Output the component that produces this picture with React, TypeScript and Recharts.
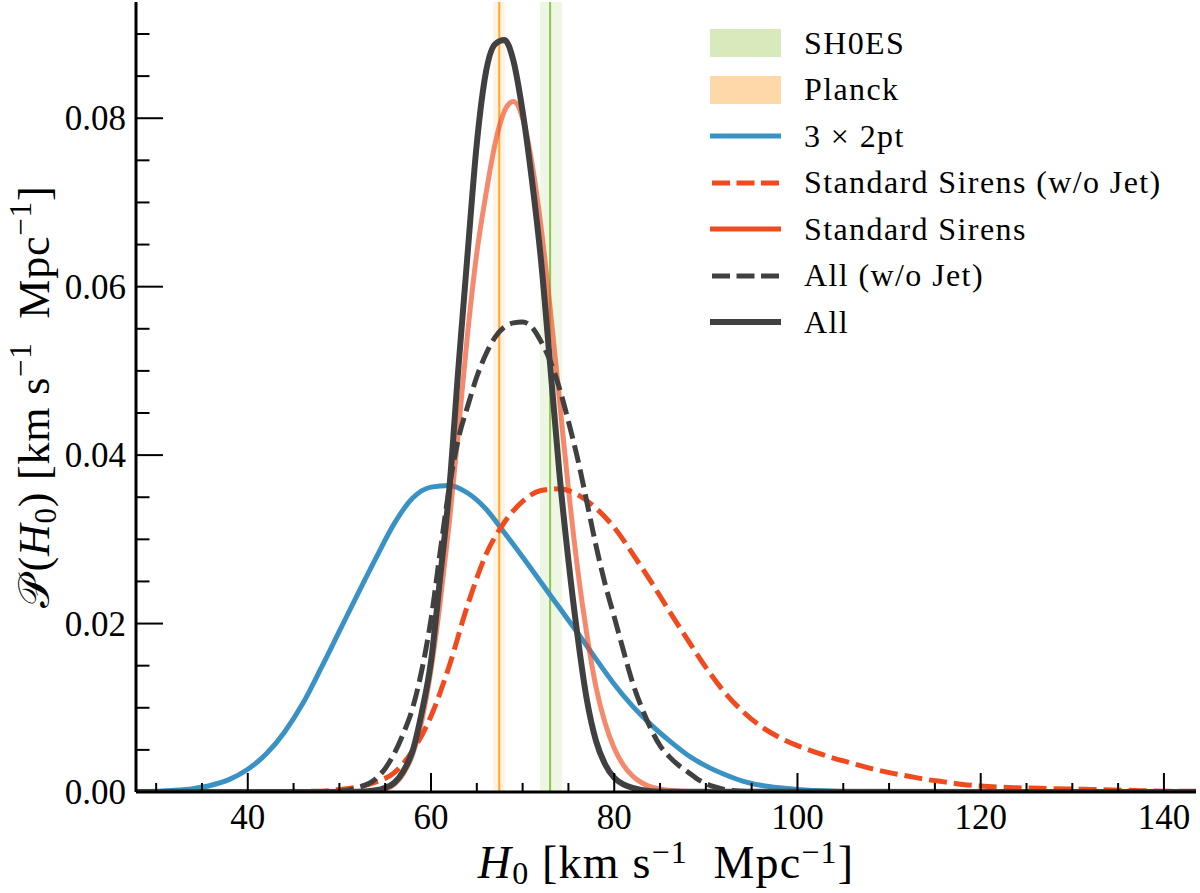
import React from 'react';
import { LineChart, Line, XAxis, YAxis, ReferenceArea, ReferenceLine, Legend } from 'recharts';

const SERIF = '"Liberation Serif", "DejaVu Serif", serif';

// ---------- data ----------
const xDomain = [27.8, 143.5];
const yDomain = [0, 0.0938];
const xTicks = [30, 35, 40, 45, 50, 55, 60, 65, 70, 75, 80, 85, 90, 95, 100, 105, 110, 115, 120, 125, 130, 135, 140];
const xMajorTicks = [40, 60, 80, 100, 120, 140];
const yTicks = [0, 0.005, 0.01, 0.015, 0.02, 0.025, 0.03, 0.035, 0.04, 0.045, 0.05, 0.055, 0.06, 0.065, 0.07, 0.075, 0.08, 0.085, 0.09];
const yMajorTicks = [0, 0.02, 0.04, 0.06, 0.08];

// bands: SH0ES, Planck
const bandNames = ['SH0ES', 'Planck'];
const bandCenter = [73.0, 67.45];
const bandLow = [71.9, 66.8];
const bandHigh = [74.3, 68.05];

// 3 x 2pt
const twoPtH0 = [27.8, 30, 32, 34, 36, 38, 40, 42, 44, 46, 48, 50, 52, 54, 56, 58, 60, 62, 64, 66, 68, 70, 72, 74, 76, 78, 80, 82, 84, 86, 88, 90, 92, 94, 96, 98, 100, 104, 108, 114];
const twoPtP = [0.0, 0.0001, 0.0002, 0.0004, 0.0008, 0.0015, 0.0027, 0.0045, 0.0071, 0.0105, 0.0147, 0.0191, 0.0235, 0.0278, 0.0319, 0.0349, 0.0362, 0.0364, 0.0355, 0.0336, 0.0308, 0.0279, 0.0249, 0.0219, 0.0189, 0.0158, 0.0128, 0.0102, 0.008, 0.0061, 0.0044, 0.0031, 0.0021, 0.0013, 0.0008, 0.0005, 0.0003, 0.0001, 0.00003, 0.0];

// Standard Sirens (w/o Jet)
const sirNoJetH0 = [27.8, 40, 44, 48, 50, 52, 54, 56, 58, 60, 62, 64, 66, 68, 70, 72, 74, 76, 78, 80, 82, 84, 86, 88, 90, 92, 94, 96, 98, 100, 102, 104, 106, 108, 110, 112, 114, 116, 118, 120, 124, 128, 132, 136, 140, 143.5];
const sirNoJetP = [0, 0, 0.00005, 0.0001, 0.0003, 0.0006, 0.0012, 0.0023, 0.0049, 0.009, 0.015, 0.0222, 0.0282, 0.032, 0.0345, 0.0358, 0.036, 0.0353, 0.0337, 0.0314, 0.0283, 0.025, 0.0215, 0.0181, 0.0148, 0.0119, 0.0096, 0.0078, 0.0065, 0.0055, 0.0047, 0.004, 0.0034, 0.0028, 0.0023, 0.0019, 0.0015, 0.0012, 0.0009, 0.0007, 0.0005, 0.0004, 0.0003, 0.0002, 0.0001, 0.0001];

// Standard Sirens
const sirH0 = [27.8, 50, 52, 54, 55, 56, 57, 58, 59, 60, 61, 62, 63, 64, 65, 66, 67, 68, 69, 70, 71, 72, 73, 74, 75, 76, 77, 78, 79, 80, 81, 82, 83, 84, 86, 88, 92, 143.5];
const sirP = [0, 0, 0.00003, 0.0001, 0.0003, 0.0009, 0.0022, 0.0045, 0.0085, 0.0145, 0.0225, 0.032, 0.043, 0.0545, 0.064, 0.071, 0.077, 0.0808, 0.082, 0.08, 0.0748, 0.0672, 0.0575, 0.0468, 0.036, 0.0265, 0.0188, 0.0125, 0.0082, 0.0052, 0.0032, 0.0019, 0.0011, 0.0006, 0.0002, 0.00005, 0, 0];

// All (w/o Jet)
const allNoJetH0 = [27.8, 46, 50, 52, 54, 55, 56, 57, 58, 59, 60, 61, 62, 63, 64, 65, 66, 67, 68, 69, 70, 71, 72, 73, 74, 75, 76, 77, 78, 79, 80, 81, 82, 83, 84, 85, 86, 87, 88, 89, 90, 91, 92, 94, 96, 143.5];
const allNoJetP = [0, 0, 0.0001, 0.0005, 0.0016, 0.0028, 0.0046, 0.007, 0.01, 0.0145, 0.0205, 0.0285, 0.0362, 0.042, 0.0458, 0.0493, 0.052, 0.054, 0.0552, 0.0557, 0.0558, 0.0552, 0.0535, 0.0512, 0.048, 0.044, 0.0396, 0.0345, 0.0293, 0.0247, 0.0208, 0.0168, 0.013, 0.01, 0.0075, 0.0055, 0.0042, 0.0032, 0.0024, 0.0016, 0.001, 0.0006, 0.0003, 0.0001, 0, 0];

// All
const allH0 = [27.8, 50, 52, 54, 55, 56, 57, 58, 59, 60, 61, 62, 63, 64, 65, 66, 67, 68, 69, 70, 71, 72, 73, 74, 75, 76, 77, 78, 79, 80, 81, 82, 84, 86, 143.5];
const allP = [0, 0, 0.00003, 0.0002, 0.0005, 0.0011, 0.0025, 0.0049, 0.0095, 0.0155, 0.0255, 0.036, 0.0505, 0.064, 0.077, 0.0855, 0.0888, 0.0893, 0.0868, 0.0808, 0.0728, 0.0632, 0.0508, 0.038, 0.0275, 0.0185, 0.011, 0.0061, 0.0033, 0.0017, 0.0009, 0.0005, 0.0001, 0.00002, 0];

const legendLabels = ['SH0ES', 'Planck', '3 × 2pt', 'Standard Sirens (w/o Jet)', 'Standard Sirens', 'All (w/o Jet)', 'All'];

// ---------- styles ----------
const COLORS = {
  shoesLine: '#8fc550',
  shoesBand: '#eef6e4',
  shoesPatch: '#d8eabb',
  planckLine: '#ffa62e',
  planckBand: '#fff2e2',
  planckPatch: '#fdd8a8',
  blue: '#3a92c4',
  red: '#f04a1e',
  dark: '#404040',
};

const zip = (xs: number[], ys: number[]) => xs.map((h, i) => ({ h, p: ys[i] }));

const series = [
  { name: legendLabels[2], data: zip(twoPtH0, twoPtP), color: COLORS.blue, dash: undefined as string | undefined, width: 5, opacity: 1 },
  { name: legendLabels[3], data: zip(sirNoJetH0, sirNoJetP), color: COLORS.red, dash: '18 7', width: 5, opacity: 1 },
  { name: legendLabels[4], data: zip(sirH0, sirP), color: COLORS.red, dash: undefined, width: 5, opacity: 0.65 },
  { name: legendLabels[5], data: zip(allNoJetH0, allNoJetP), color: COLORS.dark, dash: '18 7', width: 5, opacity: 1 },
  { name: legendLabels[6], data: zip(allH0, allP), color: COLORS.dark, dash: undefined, width: 6, opacity: 1 },
];

const legendItems = [
  { label: legendLabels[0], kind: 'patch', color: COLORS.shoesPatch, dash: undefined as string | undefined, width: 0 },
  { label: legendLabels[1], kind: 'patch', color: COLORS.planckPatch, dash: undefined, width: 0 },
  ...series.map((s) => ({ label: s.name, kind: 'line', color: s.color, dash: s.dash, width: s.width })),
];

const isMajorX = (v: number) => xMajorTicks.some((m) => Math.abs(m - v) < 1e-6);
const isMajorY = (v: number) => yMajorTicks.some((m) => Math.abs(m - v) < 1e-9);

const XTickBottom = (props: any) => {
  const { x, y, payload } = props;
  const v = payload.value;
  const major = isMajorX(v);
  return (
    <g>
      <line x1={x} x2={x} y1={y} y2={y - (major ? 19 : 9)} stroke="#000" strokeWidth={2} />
      {major && (
        <text x={x} y={y + 37} textAnchor="middle" fontFamily={SERIF} fontSize={35} fill="#000">
          {v}
        </text>
      )}
    </g>
  );
};

const XTickTop = (props: any) => {
  const { x, y, payload } = props;
  const major = isMajorX(payload.value);
  return <line x1={x} x2={x} y1={y} y2={y + (major ? 19 : 9)} stroke="#000" strokeWidth={2} />;
};

const YTickLeft = (props: any) => {
  const { x, y, payload } = props;
  const v = payload.value;
  const major = isMajorY(v);
  return (
    <g>
      <line x1={x} x2={x + (major ? 27 : 13.5)} y1={y} y2={y} stroke="#000" strokeWidth={2} />
      {major && (
        <text x={x - 10} y={y + 12} textAnchor="end" fontFamily={SERIF} fontSize={35} fill="#000">
          {v.toFixed(2)}
        </text>
      )}
    </g>
  );
};

const YTickRight = (props: any) => {
  const { x, y, payload } = props;
  const major = isMajorY(payload.value);
  return <line x1={x} x2={x - (major ? 27 : 13.5)} y1={y} y2={y} stroke="#000" strokeWidth={2} />;
};

const XLabel = (props: any) => {
  const vb = props.viewBox || { x: 136, y: 792, width: 1060, height: 101 };
  const cx = vb.x + vb.width / 2;
  const by = vb.y + 86;
  return (
    <text x={cx} y={by} textAnchor="middle" fontFamily={SERIF} fontSize={46} letterSpacing={1.2} fill="#000" style={{ whiteSpace: 'pre' }}>
      <tspan fontStyle="italic">H</tspan>
      <tspan fontSize={32} dy={6}>0</tspan>
      <tspan dy={-6}>{' [km s'}</tspan>
      <tspan fontSize={32} dy={-15}>{'−1'}</tspan>
      <tspan dy={15}>{'  Mpc'}</tspan>
      <tspan fontSize={32} dy={-15}>{'−1'}</tspan>
      <tspan dy={15}>{']'}</tspan>
    </text>
  );
};

const YLabel = (props: any) => {
  const vb = props.viewBox || { x: 0, y: 2, width: 136, height: 790 };
  const cy = vb.y + vb.height / 2;
  const bx = vb.x + 49;
  return (
    <text
      x={bx}
      y={cy}
      transform={`rotate(-90, ${bx}, ${cy})`}
      textAnchor="middle"
      fontFamily={SERIF}
      fontSize={44}
      letterSpacing={0.8}
      fill="#000"
      style={{ whiteSpace: 'pre' }}
    >
      <tspan>𝒫</tspan>
      <tspan dx={4}>(</tspan>
      <tspan fontStyle="italic">H</tspan>
      <tspan fontSize={31} dy={7}>0</tspan>
      <tspan dy={-7}>{') [km s'}</tspan>
      <tspan fontSize={31} dy={-18}>{'−1'}</tspan>
      <tspan dy={18}>{'  Mpc'}</tspan>
      <tspan fontSize={31} dy={-18}>{'−1'}</tspan>
      <tspan dy={18}>{']'}</tspan>
    </text>
  );
};

const renderLegend = () => (
  <div style={{ fontFamily: SERIF, fontSize: 32, letterSpacing: 1.4, color: '#000' }}>
    {legendItems.map((it, i) => (
      <div key={i} style={{ display: 'flex', alignItems: 'center', height: 46.5 }}>
        <svg width={71} height={30} style={{ marginRight: 23, flex: 'none' }}>
          {it.kind === 'patch' ? (
            <rect x={0} y={1} width={71} height={28} fill={it.color} />
          ) : (
            <line x1={it.dash ? 2 : 0} x2={it.dash ? 69 : 71} y1={15} y2={15} stroke={it.color} strokeWidth={it.width} strokeDasharray={it.dash ? '18 6.5' : undefined} />
          )}
        </svg>
        <span style={{ whiteSpace: 'nowrap' }}>{it.label}</span>
      </div>
    ))}
  </div>
);

export default function App() {
  return (
    <div style={{ position: 'absolute', left: 0, top: 0, width: 1200, height: 893, background: '#fff' }}>
      <LineChart width={1200} height={893} margin={{ top: 2, right: 4, left: 0, bottom: 0 }}>
        <XAxis
          xAxisId={0}
          dataKey="h"
          type="number"
          domain={xDomain}
          allowDataOverflow
          ticks={xTicks}
          interval={0}
          tickSize={0}
          tickMargin={0}
          tick={<XTickBottom />}
          tickLine={false}
          axisLine={{ stroke: '#000', strokeWidth: 3 }}
          height={101}
          label={<XLabel />}
        />
        <XAxis
          xAxisId="top"
          orientation="top"
          dataKey="h"
          type="number"
          domain={xDomain}
          allowDataOverflow
          ticks={xTicks}
          interval={0}
          tickSize={0}
          tickMargin={0}
          tick={<XTickTop />}
          tickLine={false}
          axisLine={{ stroke: '#000', strokeWidth: 3 }}
          height={0}
        />
        <YAxis
          yAxisId={0}
          type="number"
          domain={yDomain}
          allowDataOverflow
          ticks={yTicks}
          interval={0}
          tickSize={0}
          tickMargin={0}
          tick={<YTickLeft />}
          tickLine={false}
          axisLine={{ stroke: '#000', strokeWidth: 3 }}
          width={136}
          label={<YLabel />}
        />
        <YAxis
          yAxisId="right"
          orientation="right"
          type="number"
          domain={yDomain}
          allowDataOverflow
          ticks={yTicks}
          interval={0}
          tickSize={0}
          tickMargin={0}
          tick={<YTickRight />}
          tickLine={false}
          axisLine={{ stroke: '#000', strokeWidth: 3 }}
          width={0}
        />
        <ReferenceArea x1={bandLow[0]} x2={bandHigh[0]} fill={COLORS.shoesBand} fillOpacity={1} stroke="none" />
        <ReferenceArea x1={bandLow[1]} x2={bandHigh[1]} fill={COLORS.planckBand} fillOpacity={1} stroke="none" />
        <ReferenceLine x={bandCenter[0]} stroke={COLORS.shoesLine} strokeWidth={2} />
        <ReferenceLine x={bandCenter[1]} stroke={COLORS.planckLine} strokeWidth={2} />
        {series.map((s) => (
          <Line
            key={s.name}
            data={s.data}
            dataKey="p"
            name={s.name}
            type="monotone"
            dot={false}
            activeDot={false}
            stroke={s.color}
            strokeOpacity={s.opacity}
            strokeWidth={s.width}
            strokeDasharray={s.dash}
            isAnimationActive={false}
          />
        ))}
        <Legend
          layout="vertical"
          align="center"
          verticalAlign="middle"
          wrapperStyle={{ left: 710, top: 20, width: 480 }}
          content={renderLegend}
        />
      </LineChart>
    </div>
  );
}
